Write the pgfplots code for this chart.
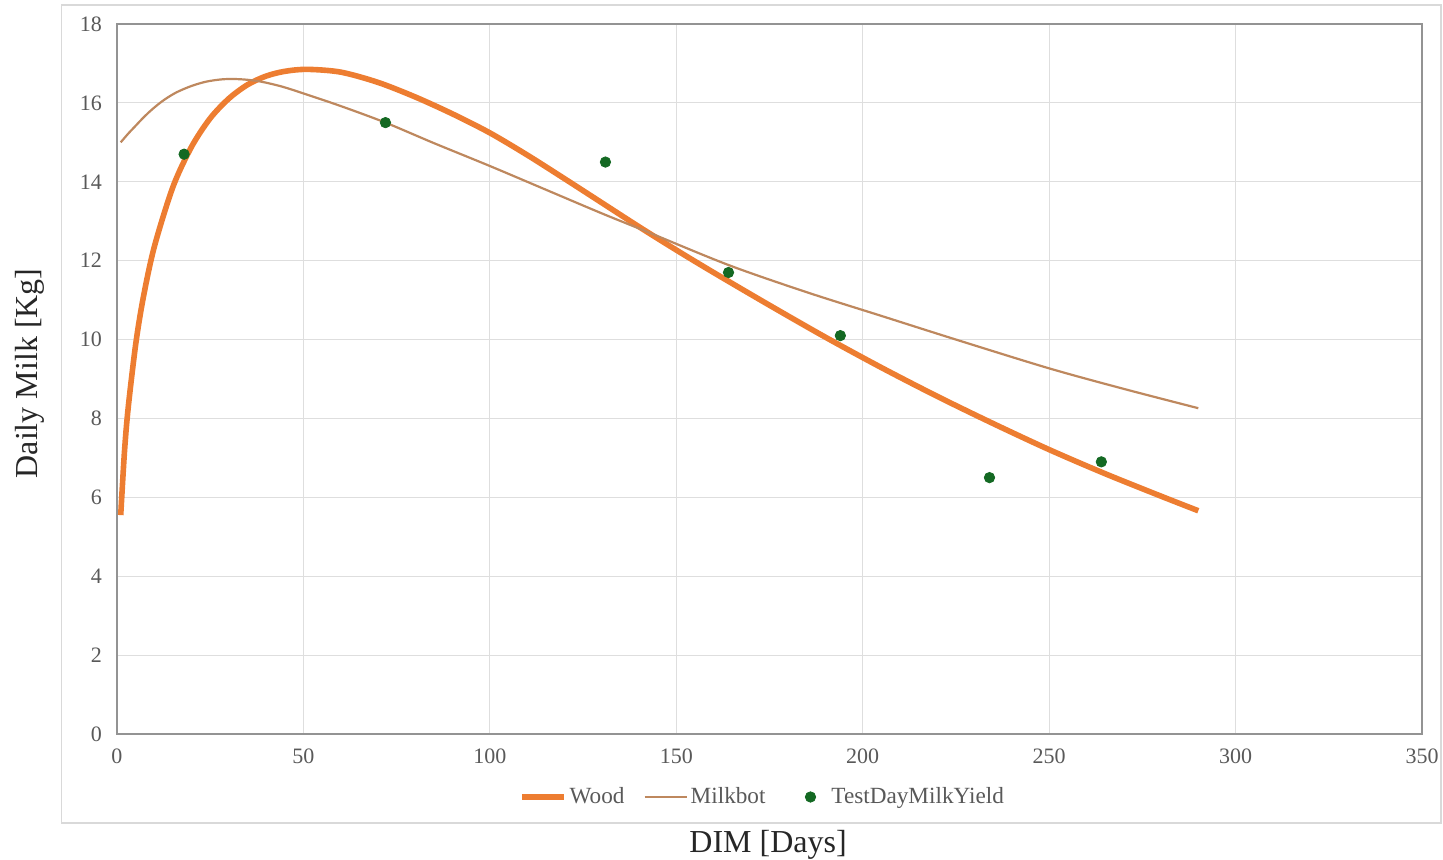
\documentclass[border=0pt]{standalone}
\usepackage{pgfplots}
\pgfplotsset{compat=1.18}
\usepackage{fontspec}
\setmainfont{Liberation Serif}
\definecolor{woodc}{RGB}{237,125,49}
\definecolor{milkc}{RGB}{190,136,94}
\definecolor{dotc}{RGB}{20,105,35}
\definecolor{gridc}{RGB}{222,222,222}
\definecolor{tickc}{RGB}{89,89,89}
\definecolor{framec}{RGB}{217,217,217}
\begin{document}
\begin{tikzpicture}
\useasboundingbox (0,0) rectangle (721.5pt,429.5pt);
\draw[framec, line width=0.6pt] (30.8pt,18pt) rectangle (720.5pt,427pt);
\begin{axis}[
  at={(58.5pt,62.5pt)}, anchor=south west,
  scale only axis, width=652.5pt, height=355pt,
  xmin=0, xmax=350, ymin=0, ymax=18,
  xtick={0,50,...,350}, ytick={0,2,...,18},
  major tick length=0pt,
  grid=major,
  major grid style={gridc, line width=0.6pt},
  axis line style={draw=gray!85, line width=1pt},
  tick label style={font=\fontsize{11}{13}\selectfont, text=tickc},
  /pgf/number format/assume math mode=true,
  yticklabel style={xshift=-4pt},
  xticklabel style={yshift=-4pt},
  xlabel={DIM [Days]},
  ylabel={Daily Milk [Kg]},
  label style={font=\fontsize{16}{19}\selectfont, text=black!85},
  xlabel style={at={(axis description cs:0.4989,-0.1662)}, anchor=base},
  ylabel style={at={(axis description cs:-0.0667,0.508)}, anchor=center},
  legend style={at={(axis description cs:0.495,-0.0887)}, anchor=center,
    draw=none, fill=none, legend columns=-1,
    font=\fontsize{11.6}{13}\selectfont, text=tickc,
    nodes={inner xsep=1.5pt},
    /tikz/every even column/.append style={column sep=8pt}},
  legend image code/.code={\draw (0pt,0pt) -- (21pt,0pt);},
]
\addplot[woodc, line width=2.8pt, smooth, tension=0.5] coordinates {
(1,5.55) (2,7.15) (3,8.27) (5,9.87) (7,11.04) (10,12.35) (15,13.87) (20,14.89)
(25,15.61) (30,16.11) (35,16.46) (40,16.68) (45,16.80) (51,16.85) (60,16.78)
(70,16.52) (80,16.15) (90,15.72) (100,15.24) (110,14.68) (120,14.08) (130,13.47)
(140,12.86) (150,12.27) (160,11.70) (175,10.87) (190,10.06) (205,9.29) (220,8.56)
(235,7.87) (250,7.21) (265,6.60) (280,6.03) (290,5.66)
};
\addlegendentry{Wood}
\addplot[milkc, line width=1.1pt, smooth, tension=0.5] coordinates {
(1,15.0) (3,15.22) (5,15.42) (7,15.62) (9,15.8) (11,15.96) (13,16.1) (16,16.27)
(20,16.43) (24,16.54) (28.5,16.6) (33,16.6) (38,16.55) (44,16.42) (50,16.24)
(60,15.92) (72,15.5) (85,14.98) (100,14.4) (115,13.8)
(130,13.2) (142,12.74) (164,11.89) (185,11.2) (205,10.6) (225,10.0) (250,9.27)
(270,8.75) (290,8.26)
};
\addlegendentry{Milkbot}
\addplot[only marks, mark=*, mark size=2.6pt, color=dotc, mark options={draw=dotc, fill=dotc},
  legend image code/.code={\path[draw=none, fill=none] (0pt,-2pt) rectangle (22pt,2pt); \draw[mark repeat=2, mark phase=2] plot coordinates {(0pt,0pt) (13pt,0pt) (22pt,0pt)};}] coordinates {
(18,14.7) (72,15.5) (131,14.5) (164,11.7) (194,10.1) (234,6.5) (264,6.9)
};
\addlegendentry{TestDayMilkYield}
\end{axis}
\end{tikzpicture}
\end{document}
